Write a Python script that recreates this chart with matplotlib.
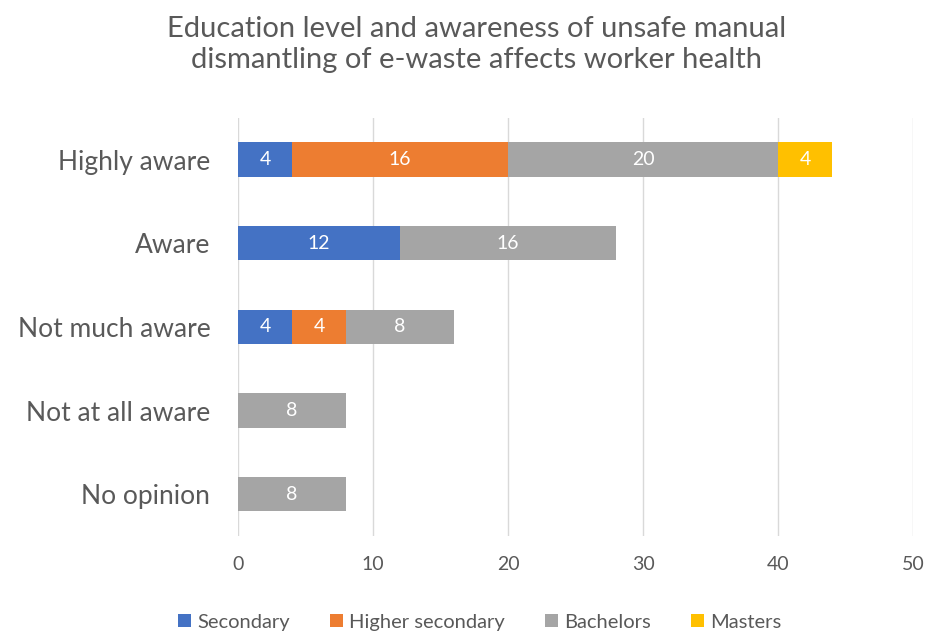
import numpy as np
import matplotlib.pyplot as plt

plt.rcParams['font.family'] = ['Lato', 'DejaVu Sans']

categories = ["Highly aware", "Aware", "Not much aware", "Not at all aware", "No opinion"]
series_names = ["Secondary", "Higher secondary", "Bachelors", "Masters"]
secondary = [4, 12, 4, 0, 0]
higher_secondary = [16, 0, 4, 0, 0]
bachelors = [20, 16, 8, 8, 8]
masters = [4, 0, 0, 0, 0]
x_ticks = [0, 10, 20, 30, 40, 50]

colors = ["#4472C4", "#ED7D31", "#A5A5A5", "#FFC000"]
text_grey = "#595959"

fig = plt.figure(figsize=(9.3, 6.33), dpi=100)
ax = fig.add_axes([0.256, 0.153, 0.726, 0.661])

y = np.arange(len(categories))
left = np.zeros(len(categories))
for name, vals, col in zip(series_names, [secondary, higher_secondary, bachelors, masters], colors):
    vals = np.array(vals, dtype=float)
    bars = ax.barh(y, vals, left=left, height=0.41, color=col, label=name, zorder=3)
    for b, v in zip(bars, vals):
        if v > 0:
            ax.text(b.get_x() + b.get_width() / 2, b.get_y() + b.get_height() / 2,
                    "%d" % v, ha="center", va="center", color="white", fontsize=14, zorder=4)
    left += vals

ax.set_ylim(len(categories) - 0.5, -0.5)
ax.set_xlim(0, 50)
ax.set_yticks(y)
ax.set_yticklabels(categories, fontsize=19, color=text_grey)
ax.set_xticks(x_ticks)
ax.set_xticklabels([str(t) for t in x_ticks], fontsize=14, color=text_grey)
ax.tick_params(length=0, axis="y", pad=20)
ax.tick_params(length=0, axis="x", pad=14)
ax.grid(axis="x", color="#D9D9D9", linewidth=1, zorder=0)
for s in ax.spines.values():
    s.set_visible(False)

fig.suptitle("Education level and awareness of unsafe manual\ndismantling of e-waste affects worker health",
             fontsize=21, color=text_grey, x=0.512, y=0.975, linespacing=1.25)

fig.legend(loc="lower center", bbox_to_anchor=(0.516, -0.025), ncol=4, frameon=False,
           fontsize=14.5, handlelength=0.65, handleheight=0.65, handletextpad=0.3,
           columnspacing=2.0, labelcolor=text_grey)

fig.savefig("out.png", dpi=100)
